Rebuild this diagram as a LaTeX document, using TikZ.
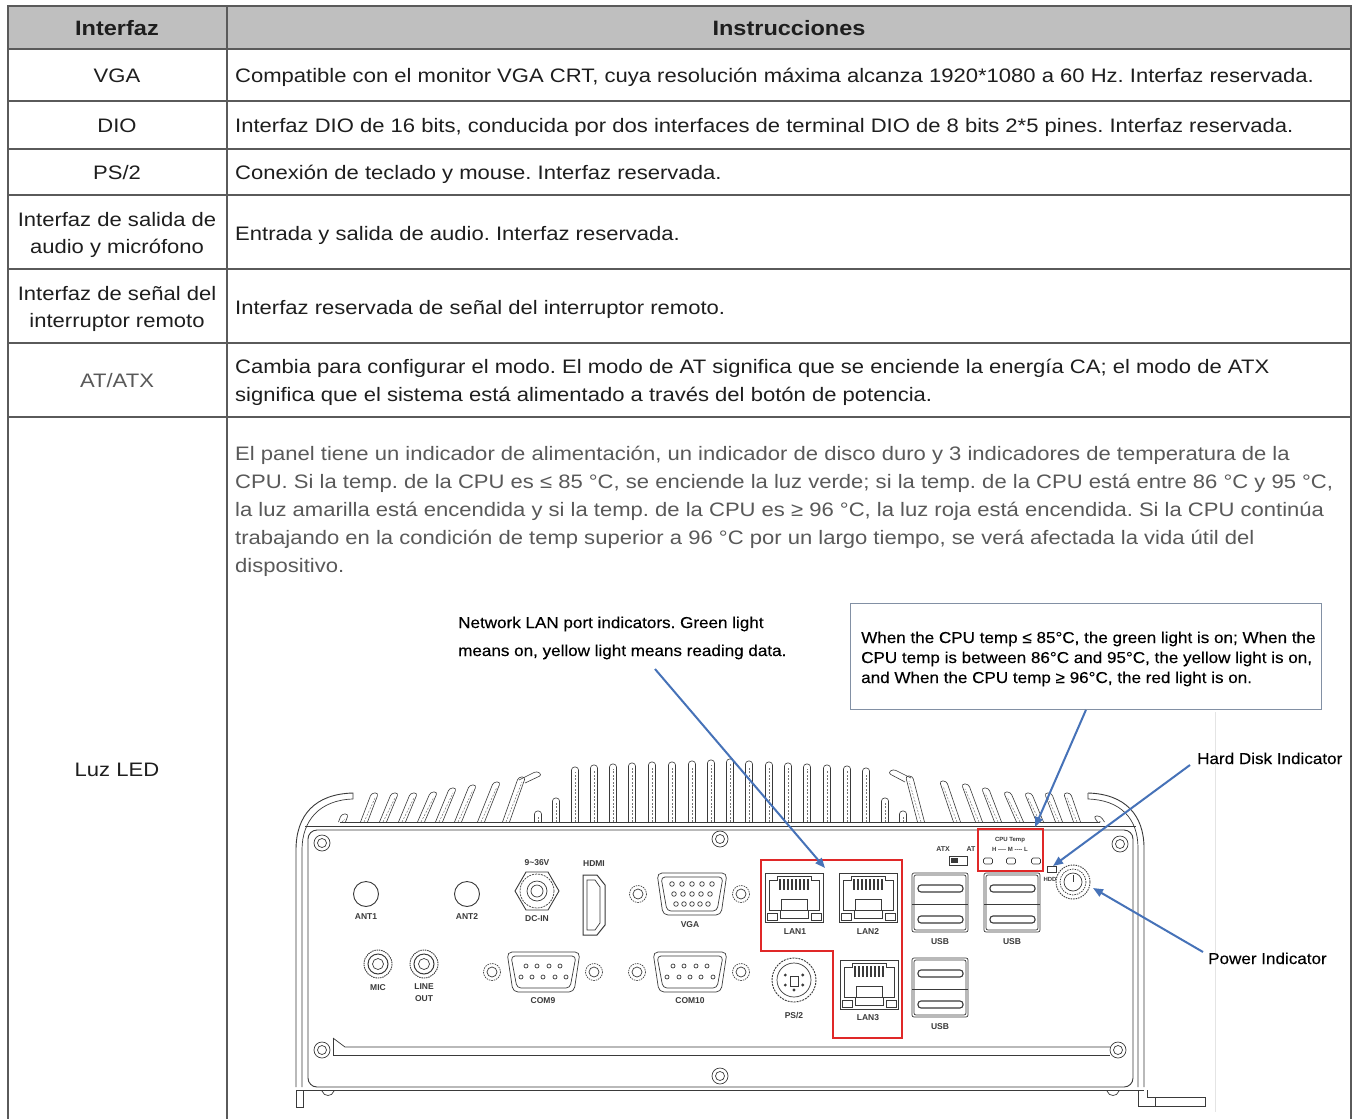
\documentclass[tikz,border=0pt]{standalone}
\usepackage{fontspec}
\setmainfont{Liberation Sans}[FakeStretch=1.13]
\newfontfamily\annfont{Liberation Sans}[FakeStretch=1.08, FakeBold=0.3]
\newfontfamily\lblfont{Liberation Sans}
\usetikzlibrary{arrows.meta,calc}
\definecolor{tline}{HTML}{5A5A5A}
\definecolor{hdrfill}{HTML}{BFBFBF}
\definecolor{txt}{HTML}{1E1E1E}
\definecolor{graytxt}{HTML}{595959}
\definecolor{ink}{HTML}{3A3A3A}
\definecolor{redbox}{HTML}{E02828}
\definecolor{bluearr}{HTML}{4672B8}
\definecolor{boxline}{HTML}{8290A4}
\definecolor{faint}{HTML}{E4E4E4}

\newcommand\finp[3]{%
  \draw[fin] ({#1-3.5+#3},822) -- ({#1-3.5},#2) -- ({#1+3.5},#2) -- ({#1+3.5+#3},822);
  \draw[findash] ({#1+#3},822) -- (#1,{#2+5});}
\newcommand\myscrew[2]{%
  \draw[dev] (#1,#2) circle (8);
  \draw[dev] (#1,#2) circle (4.5);}
\newcommand\dscrew[2]{%
  \draw[dev, dash pattern=on 1.5pt off 1pt] (#1,#2) circle (8.5);
  \draw[dev] (#1,#2) circle (5);}
\newcommand\rjport[2]{%
  \draw[dev] (#1,#2) rectangle ++(58,49);
  \draw[dev] ({#1+4},{#2+7}) -- ++(8,0) -- ++(0,-4) -- ++(34,0) -- ++(0,4) -- ++(8,0)
     -- ++(0,30) -- ++(-11,0) -- ++(0,8) -- ++(-28,0) -- ++(0,-8) -- ++(-11,0) -- cycle;
  \foreach \k in {0,...,7} \draw[ink, line width=1.6pt] ({#1+15+\k*4},{#2+6}) -- ++(0,11);
  \draw[dev] ({#1+16},{#2+26}) rectangle ++(26,11);
  \draw[dev] ({#1+2},{#2+40}) rectangle ++(10,7);
  \draw[dev] ({#1+46},{#2+40}) rectangle ++(10,7);}
\newcommand\usbpt[2]{%
  \draw[dev, rounded corners=2pt] (#1,#2) rectangle ++(56,59);
  \draw[dev, rounded corners=2pt] ({#1+2},{#2+2}) rectangle ++(52,55);
  \draw[dev] (#1,{#2+31}) -- ++(56,0);
  \draw[ink, line width=1.1pt, rounded corners=3pt] ({#1+6},{#2+12}) rectangle ++(45,7);
  \draw[ink, line width=1.1pt, rounded corners=3pt] ({#1+6},{#2+43}) rectangle ++(45,7);}
\newcommand\jack[2]{%
  \draw[dev, dash pattern=on 1.5pt off 0.8pt, line width=0.9pt] (#1,#2) circle (14);
  \draw[dev, line width=1pt] (#1,#2) circle (10);
  \draw[dev] (#1,#2) circle (5.5);}

\begin{document}
\frenchspacing
\begin{tikzpicture}[x=1pt,y=-1pt,
  cellL/.style={font=\fontsize{19.5}{27}\selectfont, text=txt, inner sep=0pt, anchor=base},
  cellR/.style={font=\fontsize{19.5}{28}\selectfont, text=txt, inner sep=0pt, anchor=base west},
  hdr/.style={font=\fontsize{20.8}{24}\selectfont\bfseries, text=txt, inner sep=0pt, anchor=base},
  ann/.style={font=\annfont\fontsize{15.8}{18}\selectfont, text=black, inner sep=0pt, anchor=base west},
  tiny/.style={font=\lblfont\fontsize{8.5}{9}\selectfont\bfseries, text=ink, inner sep=0pt},
  tinier/.style={font=\lblfont\fontsize{6}{7}\selectfont\bfseries, text=ink, inner sep=0pt},
  dev/.style={draw=ink, line width=0.7pt},
  fin/.style={draw=ink, line width=0.6pt, rounded corners=3pt},
  findash/.style={draw=ink!70, line width=0.5pt, dash pattern=on 2pt off 1.5pt},
  barrow/.style={draw=bluearr, line width=2pt, -{Triangle[length=10pt,width=8pt]}},
  redline/.style={draw=redbox, line width=2.4pt}]
\useasboundingbox (0,0) rectangle (1353,1119);
\fill[white] (0,0) rectangle (1353,1119);

% ---------------- table ----------------
\fill[hdrfill] (8,6) rectangle (1351,49);
\draw[tline, line width=1.4pt] (8,1119) -- (8,6) -- (1351,6) -- (1351,1119);
\draw[tline, line width=1.2pt] (227,6) -- (227,1119);
\foreach \yy in {49,101,149,195,269,343,417}
  \draw[tline, line width=1.2pt] (8,\yy) -- (1351,\yy);

\node[hdr] (h1) at (117,35) {Interfaz};
\node[hdr] (h2) at (789,35) {Instrucciones};

\node[cellL] (l1) at (117,82) {VGA};
\node[cellL] (l2) at (117,132) {DIO};
\node[cellL] (l3) at (117,179) {PS/2};
\node[cellL] (l4a) at (117,226) {Interfaz de salida de};
\node[cellL] (l4b) at (117,253) {audio y micrófono};
\node[cellL] (l5a) at (117,300) {Interfaz de señal del};
\node[cellL] (l5b) at (117,327) {interruptor remoto};
\node[cellL, text=graytxt] (l6) at (117,387) {AT/ATX};
\node[cellL] (l7) at (117,776) {Luz LED};

\node[cellR] (r1) at (235,82) {Compatible con el monitor VGA CRT, cuya resolución máxima alcanza 1920*1080 a 60 Hz. Interfaz reservada.};
\node[cellR] (r2) at (235,132) {Interfaz DIO de 16 bits, conducida por dos interfaces de terminal DIO de 8 bits 2*5 pines. Interfaz reservada.};
\node[cellR] (r3) at (235,179) {Conexión de teclado y mouse. Interfaz reservada.};
\node[cellR] (r4) at (235,240) {Entrada y salida de audio. Interfaz reservada.};
\node[cellR] (r5) at (235,314) {Interfaz reservada de señal del interruptor remoto.};
\node[cellR] (r6a) at (235,373) {Cambia para configurar el modo. El modo de AT significa que se enciende la energía CA; el modo de ATX};
\node[cellR] (r6b) at (235,401) {significa que el sistema está alimentado a través del botón de potencia.};
\node[cellR, text=graytxt] (r7a) at (235,460) {El panel tiene un indicador de alimentación, un indicador de disco duro y 3 indicadores de temperatura de la};
\node[cellR, text=graytxt] (r7b) at (235,488) {CPU. Si la temp. de la CPU es ≤ 85 °C, se enciende la luz verde; si la temp. de la CPU está entre 86 °C y 95 °C,};
\node[cellR, text=graytxt] (r7c) at (235,516) {la luz amarilla está encendida y si la temp. de la CPU es ≥ 96 °C, la luz roja está encendida. Si la CPU continúa};
\node[cellR, text=graytxt] (r7d) at (235,544) {trabajando en la condición de temp superior a 96 °C por un largo tiempo, se verá afectada la vida útil del};
\node[cellR, text=graytxt] (r7e) at (235,572) {dispositivo.};

% faint picture edge
\draw[faint, line width=1pt] (1215,712) -- (1215,1112);

% ---------------- annotations ----------------
\node[ann] (n1a) at (458,628) {Network LAN port indicators. Green light};
\node[ann] (n1b) at (458,656) {means on, yellow light means reading data.};
\node[draw=boxline, line width=0.9pt, minimum width=471pt, minimum height=106pt, inner sep=0pt, anchor=north west] (cpubox) at (850,603) {};
\node[ann] (c1) at (861,643) {When the CPU temp ≤ 85°C, the green light is on; When the};
\node[ann] (c2) at (861,663) {CPU temp is between 86°C and 95°C, the yellow light is on,};
\node[ann] (c3) at (861,683) {and When the CPU temp ≥ 96°C, the red light is on.};
\node[ann] (hdl) at (1197,764) {Hard Disk Indicator};
\node[ann] (pwl) at (1208,964) {Power Indicator};

% ---------------- device: fins ----------------
\foreach \xx/\yy/\dd in {345/814/-3, 375/793/-11, 395/793/-12, 414/793/-12, 434/792/-13, 453/788/-14, 473/785/-15, 497/782/-16, 522/777/-16}
  \finp{\xx}{\yy}{\dd};
\draw[fin] (519,780) -- (537,771) -- (542,775) -- (525,783);
\foreach \xx/\yy in {538/811, 556/798, 575/767, 594/765, 613/764, 632/763, 652/762, 672/762, 692/761, 711/760, 730/759, 749/761, 769/762, 788/763, 807/764, 827/765, 847/766, 866/768, 885/798, 903/811}
  \finp{\xx}{\yy}{0};
\foreach \xx/\yy/\dd in {909/776/12, 943/781/14, 965/784/14, 985/788/13, 1007/792/13, 1028/793/12, 1048/793/11, 1067/793/10, 1097/816/4}
  \finp{\xx}{\yy}{\dd};
\draw[fin] (911,778) -- (893,769) -- (888,773) -- (905,782);

% outer chassis
\draw[dev, line width=0.9pt] (296,1087) -- (296,850) .. controls (296,815) and (315,794) .. (353,793) -- (353,799);
\draw[dev] (302,1087) -- (302,850) .. controls (302,820) and (320,800) .. (353,799);
\draw[dev, line width=0.9pt] (1088,793) .. controls (1125,794) and (1144,815) .. (1144,848) -- (1144,1087);
\draw[dev] (1088,793) -- (1088,799) .. controls (1120,800) and (1138,818) .. (1138,848) -- (1138,1087);
\draw[dev] (340,822) -- (1100,822);
\draw[dev] (305,826) -- (1136,826);
% front panel
\draw[dev, line width=0.9pt, rounded corners=9pt] (308,830) rectangle (1133,1087);
\draw[dev] (296,1090) -- (1144,1090);
% feet
\draw[dev] (296,1090) -- (296,1107) -- (303,1107) -- (303,1090);
\draw[dev] (1138,1090) -- (1138,1106) -- (1205,1106) -- (1205,1097) -- (1147,1097) -- (1147,1090);
\draw[dev] (1155,1097) -- (1155,1106);
\draw[dev] (322,1091) .. controls (324,1097) and (332,1097) .. (334,1091);
\draw[dev] (1107,1091) .. controls (1109,1097) and (1117,1097) .. (1119,1091);
% rail
\draw[dev] (333,1038) -- (345,1047) -- (1110,1047);
\draw[dev] (333,1038) -- (333,1055) -- (1110,1055);
% screws
\myscrew{322}{843}
\myscrew{720}{839}
\myscrew{1120}{844}
\myscrew{322}{1050}
\myscrew{1118}{1050}
\myscrew{720}{1076}

% ---------------- device: ports ----------------
\draw[dev, line width=0.9pt] (366,894) circle (12.5);
\draw[dev, line width=0.9pt] (467,894) circle (12.5);
\node[tiny] (tant1) at (366,917) {ANT1};
\node[tiny] (tant2) at (467,917) {ANT2};
% DC-IN
\draw[dev, line width=0.9pt] (559,891) -- (548,872) -- (526,872) -- (515,891) -- (526,910) -- (548,910) -- cycle;
\draw[dev, dash pattern=on 2pt off 1pt] (537,891) circle (17);
\draw[dev] (537,891) circle (10);
\draw[dev] (537,891) circle (6);
\node[tiny] (tdc1) at (537,863) {9\textasciitilde 36V};
\node[tiny] (tdc2) at (537,919) {DC-IN};
% HDMI
\draw[dev, line width=1pt] (583,875) -- (597,875) -- (605,885) -- (605,925) -- (597,935) -- (583,935) -- cycle;
\draw[dev] (587,880) -- (595,880) -- (600,887) -- (600,923) -- (595,930) -- (587,930) -- cycle;
\node[tiny] (thdmi) at (594,864) {HDMI};
% VGA
\draw[dev, rounded corners=5pt] (657,873) -- (727,873) -- (721,915) -- (663,915) -- cycle;
\draw[dev, rounded corners=4pt] (661,877) -- (723,877) -- (717,911) -- (667,911) -- cycle;
\foreach \px in {672,682,692,702,712} \draw[dev] (\px,884) circle (2.3);
\foreach \px in {674,683,692,701,710} \draw[dev] (\px,894) circle (2.3);
\foreach \px in {676,684,692,700,708} \draw[dev] (\px,904) circle (2.3);
\dscrew{638}{894}
\dscrew{741}{894}
\node[tiny] (tvga) at (690,925) {VGA};
% MIC / LINE OUT
\jack{378}{964}
\jack{424}{964}
\node[tiny] (tmic) at (378,988) {MIC};
\node[tiny] (tline) at (424,987) {LINE};
\node[tiny] (tout) at (424,999) {OUT};
% COM9
\draw[dev, rounded corners=5pt] (507,952) -- (580,952) -- (574,992) -- (513,992) -- cycle;
\draw[dev, rounded corners=4pt] (511,956) -- (576,956) -- (570,988) -- (517,988) -- cycle;
\foreach \px in {526,537,549,560} \draw[dev] (\px,966) circle (2);
\foreach \px in {521,532,543,555,566} \draw[dev] (\px,977) circle (2);
\dscrew{492}{972}
\dscrew{594}{972}
\node[tiny] (tcom9) at (543,1001) {COM9};
% COM10
\draw[dev, rounded corners=5pt] (653,952) -- (727,952) -- (721,992) -- (659,992) -- cycle;
\draw[dev, rounded corners=4pt] (657,956) -- (723,956) -- (717,988) -- (663,988) -- cycle;
\foreach \px in {673,684,696,707} \draw[dev] (\px,966) circle (2);
\foreach \px in {667,679,690,701,713} \draw[dev] (\px,977) circle (2);
\dscrew{637}{972}
\dscrew{741}{972}
\node[tiny] (tcom10) at (690,1001) {COM10};
% LAN
\rjport{765}{873}
\rjport{839}{873}
\rjport{840}{960}
\node[tiny] (tlan1) at (795,932) {LAN1};
\node[tiny] (tlan2) at (868,932) {LAN2};
\node[tiny] (tlan3) at (868,1018) {LAN3};
% PS/2
\draw[dev, dash pattern=on 2pt off 1pt, line width=0.9pt] (794,980) circle (22);
\draw[dev] (794,980) circle (17);
\foreach \a in {30,90,150,210,330} \fill[ink] ($(794,980)+(\a:10)$) circle (1.6);
\draw[dev] (790,976) rectangle (798,986);
\node[tiny] (tps2) at (794,1015) {PS/2};
% USB
\usbpt{912}{873}
\usbpt{984}{873}
\usbpt{912}{958}
\node[tiny] (tusb1) at (940,942) {USB};
\node[tiny] (tusb2) at (1012,942) {USB};
\node[tiny] (tusb3) at (940,1027) {USB};
% ATX switch
\node[tinier, font=\lblfont\fontsize{7}{7}\selectfont\bfseries] (tatx) at (943,849) {ATX};
\node[tinier, font=\lblfont\fontsize{7}{7}\selectfont\bfseries] (tat) at (971,849) {AT};
\draw[dev] (949,856) rectangle (967,865);
\fill[ink] (951,858) rectangle (958,863);
% CPU temp LEDs
\node[tinier] (tcpu) at (1010,840) {CPU Temp};
\node[tinier] (thml) at (1010,849) {H ---- M ---- L};
\foreach \px in {988,1011,1036} \draw[dev, rounded corners=1.5pt] ({\px-4.5},858) rectangle ++(9,6);
% HDD + power
\draw[dev] (1047,866) rectangle (1056,872);
\node[tinier] (thdd) at (1050,879) {HDD};
\draw[dev, dash pattern=on 1.5pt off 1pt, line width=0.9pt] (1073,882) circle (17);
\draw[dev, dash pattern=on 1.5pt off 1pt] (1073,882) circle (13);
\draw[dev] (1073,882) circle (9);
\draw[dev] (1073,875) -- (1073,882);

% red outlines
\draw[redline] (761,860) -- (902,860) -- (902,1038) -- (833,1038) -- (833,951) -- (761,951) -- cycle;
\draw[redline] (978,829) rectangle (1043,871);

% ---------------- blue arrows ----------------
\coordinate (lanA) at (655,669);
\coordinate (lanB) at (825,868);
\coordinate (cpuB) at (1035,827);
\coordinate (hddA) at (1190,765);
\coordinate (hddB) at (1053,866);
\coordinate (pwrA) at (1203,952);
\coordinate (pwrB) at (1093,888);
\draw[barrow] (lanA) -- (lanB);
\draw[barrow] (cpubox.south) -- (cpuB);
\draw[barrow] (hddA) -- (hddB);
\draw[barrow] (pwrA) -- (pwrB);
\end{tikzpicture}
\end{document}
